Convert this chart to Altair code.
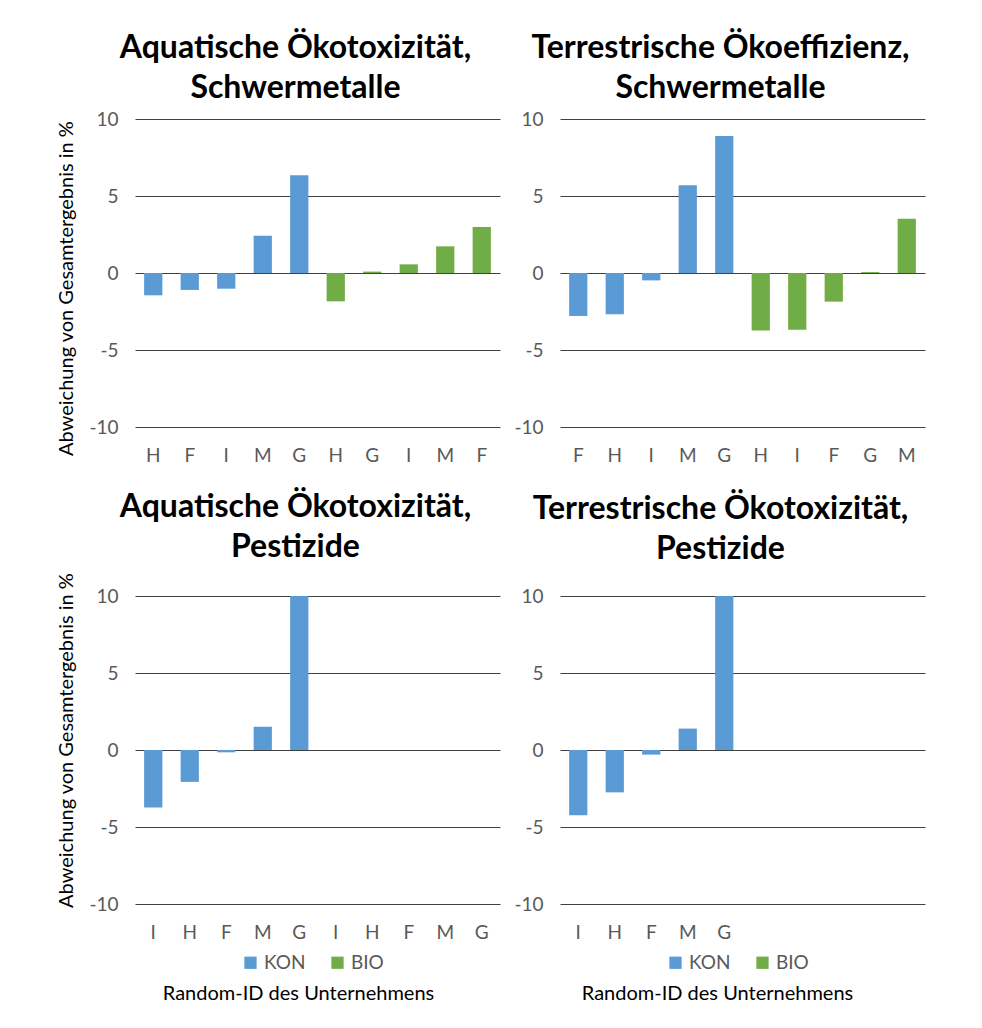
import altair as alt
import pandas as pd

# ---- data ----
groups = ["KON"] * 5 + ["BIO"] * 5

p1_title = ["Aquatische Ökotoxizität,", "Schwermetalle"]
p1_labels = ["H", "F", "I", "M", "G", "H", "G", "I", "M", "F"]
p1_values = [-1.45, -1.1, -1.02, 2.42, 6.34, -1.84, 0.09, 0.56, 1.73, 2.99]

p2_title = ["Terrestrische Ökoeffizienz,", "Schwermetalle"]
p2_labels = ["F", "H", "I", "M", "G", "H", "I", "F", "G", "M"]
p2_values = [-2.79, -2.68, -0.48, 5.69, 8.9, -3.74, -3.68, -1.86, 0.06, 3.53]

p3_title = ["Aquatische Ökotoxizität,", "Pestizide"]
p3_labels = ["I", "H", "F", "M", "G", "I", "H", "F", "M", "G"]
p3_values = [-3.74, -2.07, -0.15, 1.51, 10.0]

p4_title = ["Terrestrische Ökotoxizität,", "Pestizide"]
p4_labels = ["I", "H", "F", "M", "G", "", "", "", "", ""]
p4_values = [-4.24, -2.75, -0.3, 1.39, 10.0]

series = ["KON", "BIO"]
colors = ["#5B9BD5", "#70AD47"]
y_ticks = [-10, -5, 0, 5, 10]

FONT = "Lato"
W, H = 365, 308


def panel(title, labels, values, left, bottom, xtitle_x=0, title_offset=5):
    n = len(values)
    df = pd.DataFrame({
        "slot": list(range(n)),
        "label": labels[:n],
        "group": groups[:n],
        "value": values,
    })
    lab_arr = "[" + ",".join("'%s'" % l for l in labels) + "]"
    x_axis = alt.Axis(
        labelExpr=lab_arr + "[datum.value]",
        labelAngle=0, domain=False, ticks=False, labelPadding=19,
        labelFontSize=19, labelColor="#595959", labelFont=FONT,
        title="Random-ID des Unternehmens" if bottom else None,
        titleFontSize=20, titleFontWeight="normal", titleColor="#000000",
        titleFont=FONT, titlePadding=41,
        **({"titleX": xtitle_x} if bottom else {}),
    )
    y_extra = {}
    if left:
        y_extra = {"titleY": 144 if bottom else 169}
    y_axis = alt.Axis(
        values=y_ticks, grid=True, gridColor="#404040", gridWidth=1,
        domain=False, ticks=False, labelPadding=17,
        labelExpr="datum.value + ''",
        labelFontSize=19, labelColor="#595959", labelFont=FONT,
        title="Abweichung von Gesamtergebnis in %" if left else None,
        titleFontSize=20, titleFontWeight="normal", titleColor="#000000",
        titleFont=FONT, titlePadding=12,
        **y_extra,
    )
    legend = None
    if bottom:
        legend = alt.Legend(
            orient="none", legendX=106, legendY=357, direction="horizontal",
            title=None, symbolType="square", symbolSize=150,
            symbolStrokeWidth=0, labelFontSize=19, labelColor="#595959",
            labelFont=FONT, columnPadding=22, labelOffset=4,
        )
    chart = alt.Chart(df).mark_bar().encode(
        x=alt.X("slot:O", scale=alt.Scale(domain=list(range(10)),
                                          paddingInner=0.5, paddingOuter=0.25),
                axis=x_axis),
        y=alt.Y("value:Q", scale=alt.Scale(domain=[-10, 10], nice=False),
                axis=y_axis),
        color=alt.Color("group:N", scale=alt.Scale(domain=series, range=colors),
                        legend=legend),
    ).properties(
        width=W, height=H,
        title=alt.TitleParams(title, fontSize=32, fontWeight="bold",
                              font=FONT, color="#000000", lineHeight=40,
                              offset=title_offset, anchor="middle", dx=-22),
    )
    return chart


c1 = panel(p1_title, p1_labels, p1_values, True, False, title_offset=5)
c2 = panel(p2_title, p2_labels, p2_values, False, False, title_offset=5)
c3 = panel(p3_title, p3_labels, p3_values, True, True, 163, title_offset=8)
c4 = panel(p4_title, p4_labels, p4_values, False, True, 157, title_offset=21)

chart = alt.vconcat(
    alt.hconcat(c1, c2, spacing=13).resolve_scale(color="independent"),
    alt.hconcat(c3, c4, spacing=13).resolve_scale(color="independent"),
    spacing=26,
).resolve_scale(color="independent").properties(
    padding={"left": 48, "top": 24, "right": 5, "bottom": 5},
    background="white",
).configure_view(stroke=None)

chart.save("out.html", embed_options={"renderer": "svg", "actions": False})
